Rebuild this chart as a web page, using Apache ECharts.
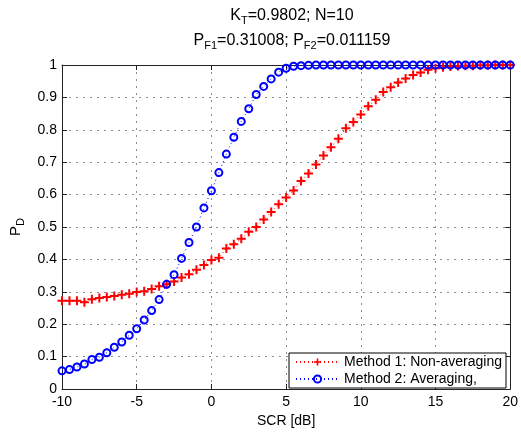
<!DOCTYPE html>
<html>
<head>
<meta charset="utf-8">
<script src="https://cdn.jsdelivr.net/npm/echarts@6/dist/echarts.min.js"></script>
<style>
  html, body { margin: 0; padding: 0; background: #fff; }
  #chart { width: 521px; height: 433px; }
</style>
</head>
<body>
<div id="chart"></div>
<script>
// SCR values in dB, 0.5 dB step
var scr = [
  -10, -9.5, -9, -8.5, -8, -7.5, -7, -6.5, -6, -5.5,
  -5, -4.5, -4, -3.5, -3, -2.5, -2, -1.5, -1, -0.5,
  0, 0.5, 1, 1.5, 2, 2.5, 3, 3.5, 4, 4.5,
  5, 5.5, 6, 6.5, 7, 7.5, 8, 8.5, 9, 9.5,
  10, 10.5, 11, 11.5, 12, 12.5, 13, 13.5, 14, 14.5,
  15, 15.5, 16, 16.5, 17, 17.5, 18, 18.5, 19, 19.5, 20
];
// Method 1: non-averaging
var pdNonAvg = [
  0.272, 0.272, 0.272, 0.268, 0.277, 0.281, 0.284, 0.287, 0.291, 0.294,
  0.299, 0.302, 0.309, 0.317, 0.323, 0.332, 0.344, 0.354, 0.368, 0.383,
  0.398, 0.405, 0.434, 0.447, 0.464, 0.485, 0.500, 0.523, 0.546, 0.570,
  0.591, 0.613, 0.642, 0.665, 0.693, 0.721, 0.746, 0.772, 0.805, 0.824,
  0.847, 0.873, 0.893, 0.917, 0.931, 0.946, 0.958, 0.969, 0.977, 0.985,
  0.990, 0.993, 0.995, 0.997, 0.998, 0.998, 0.999, 0.999, 1.000, 1.000, 1.000
];
// Method 2: averaging
var pdAvg = [
  0.056, 0.060, 0.068, 0.077, 0.091, 0.098, 0.112, 0.129, 0.145, 0.166,
  0.186, 0.213, 0.242, 0.276, 0.323, 0.353, 0.403, 0.452, 0.500, 0.559,
  0.612, 0.668, 0.725, 0.777, 0.826, 0.865, 0.909, 0.934, 0.957, 0.978,
  0.990, 0.996, 0.998, 0.999, 1.000, 1.000, 1.000, 1.000, 1.000, 1.000,
  1.000, 1.000, 1.000, 1.000, 1.000, 1.000, 1.000, 1.000, 1.000, 1.000,
  1.000, 1.000, 1.000, 1.000, 1.000, 1.000, 1.000, 1.000, 1.000, 1.000, 1.000
];
var seriesNames = ['Method 1: Non-averaging', 'Method 2: Averaging,'];

function pairs(xs, ys) {
  return xs.map(function (x, i) { return [x, ys[i]]; });
}

var font = 'Liberation Sans, Arial, sans-serif';
var plusPath = 'path://M3.5,0H5.5V3.5H9V5.5H5.5V9H3.5V5.5H0V3.5H3.5Z';
var grid = { type: [2, 5], color: '#8c8c8c', width: 1 };
var frame = { onZero: false, show: true, lineStyle: { color: '#222' } };
var ticks = { show: true, inside: true, length: 5, lineStyle: { color: '#222' } };

var chart = echarts.init(document.getElementById('chart'), null, { renderer: 'canvas' });
var option = {
  animation: false,
  backgroundColor: '#fff',
  textStyle: { fontFamily: font },
  title: {
    text: '{n|K}{s|T}{n|=0.9802; N=10}\n{n|P}{s|F1}{n|=0.31008; P}{s|F2}{n|=0.011159}',
    left: 287,
    top: -2,
    textAlign: 'center',
    textStyle: {
      fontWeight: 'normal',
      rich: {
        n: { fontFamily: font, fontSize: 16, fontWeight: 'normal', color: '#000', lineHeight: 25 },
        s: { fontFamily: font, fontSize: 11, fontWeight: 'normal', color: '#000', padding: [11, 0, 0, 0] }
      }
    }
  },
  grid: { left: 61, right: 8, top: 65, bottom: 38 },
  legend: {
    orient: 'vertical',
    right: 15,
    bottom: 45,
    data: seriesNames,
    backgroundColor: '#fff',
    borderColor: '#000',
    borderWidth: 1,
    padding: [2, 4, 2, 6],
    itemGap: 3,
    itemWidth: 43,
    itemHeight: 9,
    textStyle: { fontFamily: font, fontSize: 14, color: '#000' }
  },
  xAxis: [
    {
      type: 'value', min: -10, max: 20, interval: 5,
      name: 'SCR [dB]', nameLocation: 'middle', nameGap: 25,
      nameTextStyle: { fontFamily: font, fontSize: 14, color: '#000' },
      axisLine: frame,
      axisTick: ticks,
      axisLabel: { color: '#000', fontSize: 14, margin: 6 },
      splitLine: { show: true, lineStyle: grid }
    },
    {
      type: 'value', min: -10, max: 20, interval: 5, position: 'top',
      axisLine: frame,
      axisTick: ticks,
      axisLabel: { show: false },
      splitLine: { show: false }
    }
  ],
  yAxis: [
    {
      type: 'value', min: 0, max: 1, interval: 0.1,
      name: '{n|P}{s|D}', nameLocation: 'middle', nameGap: 36, nameRotate: 90,
      nameTextStyle: {
        rich: {
          n: { fontFamily: font, fontSize: 15, color: '#000' },
          s: { fontFamily: font, fontSize: 11, color: '#000', padding: [10, 0, 0, 0] }
        }
      },
      axisLine: frame,
      axisTick: ticks,
      axisLabel: {
        color: '#000', fontSize: 14, margin: 5,
        formatter: function (v) { return String(Math.round(v * 10) / 10); }
      },
      splitLine: { show: true, lineStyle: grid }
    },
    {
      type: 'value', min: 0, max: 1, interval: 0.1, position: 'right',
      axisLine: frame,
      axisTick: ticks,
      axisLabel: { show: false },
      splitLine: { show: false }
    }
  ],
  series: [
    {
      name: seriesNames[0],
      type: 'line',
      data: pairs(scr, pdNonAvg),
      symbol: plusPath,
      symbolSize: 9,
      lineStyle: { color: '#ff0000', width: 1, type: [1, 3] },
      itemStyle: { color: '#ff0000' }
    },
    {
      name: seriesNames[1],
      type: 'line',
      data: pairs(scr, pdAvg),
      symbol: 'circle',
      symbolSize: 7,
      lineStyle: { color: '#0000ff', width: 1, type: [1, 3] },
      itemStyle: { color: 'rgba(255,255,255,0)', borderColor: '#0000ff', borderWidth: 2 }
    }
  ]
};
chart.setOption(option);
</script>
</body>
</html>
